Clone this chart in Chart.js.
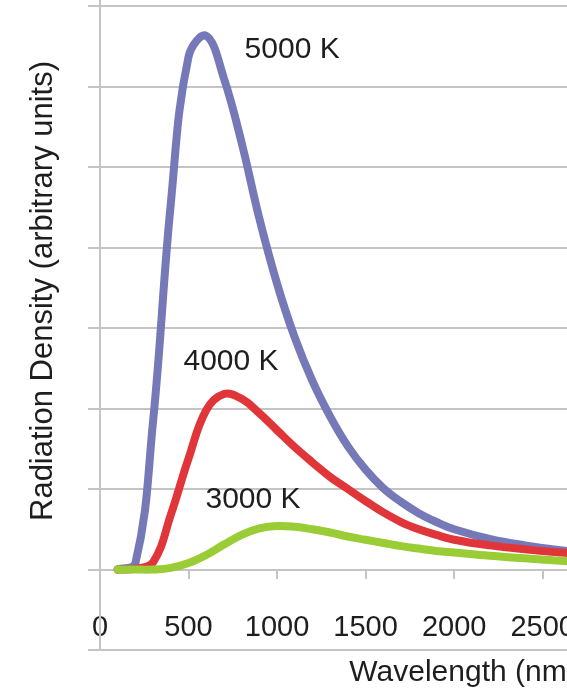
<!DOCTYPE html>
<html>
<head>
<meta charset="utf-8">
<script src="https://cdn.jsdelivr.net/npm/chart.js@4/dist/chart.umd.min.js"></script>
<style>
  html, body { margin: 0; padding: 0; background: #ffffff; overflow: hidden; width: 567px; height: 695px; }
  #wrap { position: absolute; left: 0; top: -74px; width: 826px; height: 769px; }
  canvas { display: block; }
</style>
</head>
<body>
<div id="wrap"><canvas id="c" width="826" height="769"></canvas></div>
<script>
// ---- data ----
const wavelengths = [100, 200, 300, 400, 500, 600, 700, 800, 900, 1000, 1100, 1200, 1300, 1400, 1500, 1600, 1700, 1800, 1900, 2000, 2200, 2400, 2600, 2800, 3000];
const density5000 = [0.0, 0.08, 1.85, 4.55, 6.37, 6.63, 6.10, 5.30, 4.36, 3.55, 2.88, 2.34, 1.90, 1.53, 1.24, 1.01, 0.84, 0.70, 0.59, 0.50, 0.38, 0.30, 0.24, 0.20, 0.17];
const density4000 = [0.0, 0.01, 0.09, 0.68, 1.38, 1.98, 2.18, 2.12, 1.94, 1.73, 1.52, 1.33, 1.15, 1.00, 0.85, 0.71, 0.59, 0.50, 0.43, 0.37, 0.30, 0.25, 0.21, 0.18, 0.15];
const density3000 = [0.0, 0.0, 0.0, 0.02, 0.08, 0.18, 0.31, 0.43, 0.51, 0.54, 0.53, 0.50, 0.46, 0.41, 0.37, 0.33, 0.29, 0.26, 0.23, 0.21, 0.17, 0.14, 0.11, 0.09, 0.08];
const xTickValues = [0, 500, 1000, 1500, 2000, 2500, 3000];
const seriesNames = ['5000 K', '4000 K', '3000 K'];
// label anchors in data units (wavelength, density)
const labelX = [1085, 740, 864];
const labelY = [6.46, 2.58, 0.87];
const xTitle = 'Wavelength (nm)';
const yTitle = 'Radiation Density (arbitrary units)';

const FONT = '"Liberation Sans", Arial, Helvetica, sans-serif';
const TEXT = '#1e1e1e';
const GRID = 'rgb(196,196,196)';
Chart.defaults.font.family = FONT;

function pts(arr) { return wavelengths.map((w, i) => ({ x: w, y: arr[i] })); }

const curveLabels = {
  id: 'curveLabels',
  afterDatasetsDraw(chart) {
    const { ctx, scales } = chart;
    ctx.save();
    ctx.font = '30px ' + FONT;
    ctx.fillStyle = TEXT;
    ctx.textAlign = 'center';
    ctx.textBaseline = 'middle';
    seriesNames.forEach((t, i) => {
      ctx.fillText(t, scales.x.getPixelForValue(labelX[i]), scales.y.getPixelForValue(labelY[i]));
    });
    ctx.restore();
  }
};

const common = { borderWidth: 8, pointRadius: 0, pointHoverRadius: 0, fill: false,
  tension: 0.4, borderCapStyle: 'round', borderJoinStyle: 'round' };

new Chart(document.getElementById('c'), {
  type: 'line',
  data: {
    datasets: [
      Object.assign({ label: seriesNames[0], data: pts(density5000), borderColor: '#7579B8', order: 3 }, common),
      Object.assign({ label: seriesNames[1], data: pts(density4000), borderColor: '#E0363A', order: 2 }, common),
      Object.assign({ label: seriesNames[2], data: pts(density3000), borderColor: '#9ACC35', order: 1 }, common)
    ]
  },
  options: {
    responsive: false,
    animation: false,
    devicePixelRatio: 1,
    layout: { padding: { top: 6, left: 0, right: 0, bottom: 0 } },
    plugins: {
      legend: { display: false },
      tooltip: { enabled: false },
      title: {
        display: true, text: xTitle, position: 'bottom', fullSize: false,
        color: TEXT, font: { size: 30, weight: 'normal' }, padding: { top: 5, bottom: 4 }
      }
    },
    scales: {
      x: {
        type: 'linear', position: { y: 0 }, min: 0, max: 4100,
        afterBuildTicks: (axis) => { axis.ticks = xTickValues.map(v => ({ value: v })); },
        ticks: { autoSkip: false, maxRotation: 0, color: TEXT, font: { size: 29 }, padding: 33,
          callback: (v) => String(v) },
        grid: { drawOnChartArea: false, drawTicks: true, tickLength: 8, color: GRID, lineWidth: 2 },
        border: { display: true, color: GRID, width: 2 }
      },
      y: {
        type: 'linear', position: 'left', min: -1, max: 7.92,
        ticks: { display: false, stepSize: 1 },
        grid: { color: GRID, lineWidth: 2, tickLength: 12, drawTicks: true },
        border: { display: true, color: GRID, width: 2 },
        title: { display: true, text: yTitle, color: TEXT, font: { size: 31 }, padding: { top: 24.4, bottom: 26.4 } }
      }
    }
  },
  plugins: [curveLabels]
});
</script>
</body>
</html>
